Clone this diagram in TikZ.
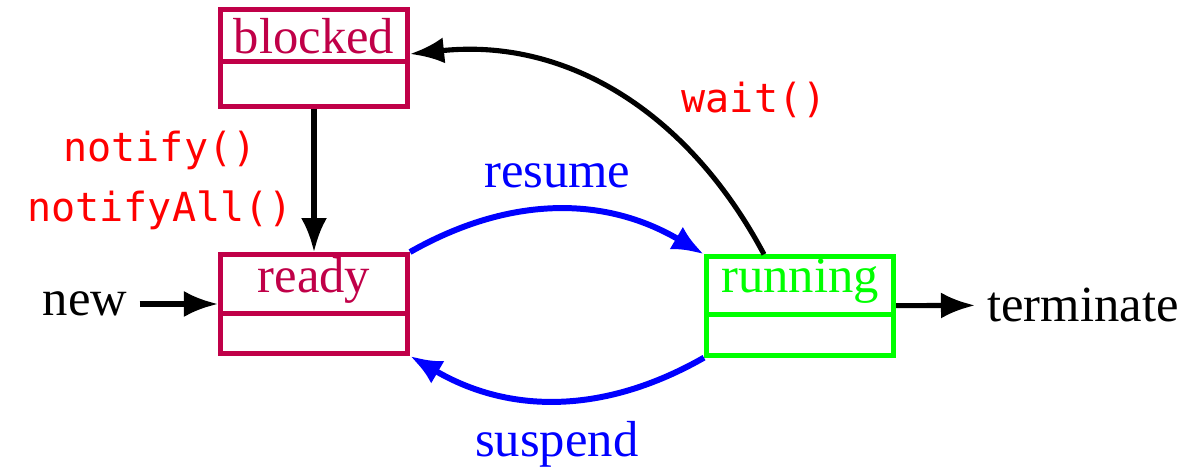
\documentclass[tikz,border=0pt]{standalone}
\usepackage{fontspec}
\setmainfont{Liberation Serif}
\newfontfamily\codefont{DejaVu Sans Mono}
\usetikzlibrary{positioning,shapes.multipart,arrows.meta}
\definecolor{statered}{RGB}{192,0,72}
\definecolor{rungreen}{RGB}{0,255,0}
\tikzset{
  state/.style={rectangle split, rectangle split parts=2, draw=statered,
    text=statered, line width=1.4pt, minimum width=1.87cm, inner xsep=2pt,
    inner ysep=0pt, font=\fontsize{14.4}{17}\selectfont},
  flow/.style={line width=1.45pt, -{Latex[length=0.34cm,width=0.26cm]}},
  swap/.style={line width=1.7pt, blue, -{Latex[length=0.32cm,width=0.26cm]}},
  call/.style={text=red, font=\fontsize{11.4}{17}\codefont, align=center},
  word/.style={font=\fontsize{14.4}{17}\selectfont},
}
\begin{document}
\begin{tikzpicture}[x=0.01cm, y=0.01cm]
\useasboundingbox (0,0) rectangle (1201,467);
% States
\node [state] (blocked) at (314,409)
  {\rule[-0.06cm]{0pt}{0.47cm}blocked\nodepart{two}\rule{0pt}{0.4cm}};
\node [state] (ready) at (314,163)
  {\rule[-0.19cm]{0pt}{0.48cm}ready\nodepart{two}\rule{0pt}{0.35cm}};
\node [state, draw=rungreen, text=rungreen] (running) at (800,161)
  {\rule[-0.19cm]{0pt}{0.48cm}running\nodepart{two}\rule{0pt}{0.36cm}};
% Start and end
\node [word] (new) at (85,163) {new};
\node [word] (term) at (1083,162) {terminate};
% Transitions
\draw [flow] (new) -- (ready);
\draw [flow] (running) -- (term);
\draw [flow] (blocked) -- node [call, left=2pt] (notifylbl) {notify()\\notifyAll()} (ready);
\draw [flow] ([xshift=-0.36cm]running.north) to [out=118, in=6] ([yshift=0.04cm]blocked.east);
\node [call] (waitlbl) at (754,367) {wait()};
\draw [swap] (ready.north east) to [bend left=30]
  node [above=2pt, word, text=blue] (resumelbl) {resume} (running.north west);
\draw [swap] (running.south west) to [bend left=30]
  node [below=2pt, word, text=blue] (suspendlbl) {suspend} (ready.south east);
\end{tikzpicture}
\end{document}
